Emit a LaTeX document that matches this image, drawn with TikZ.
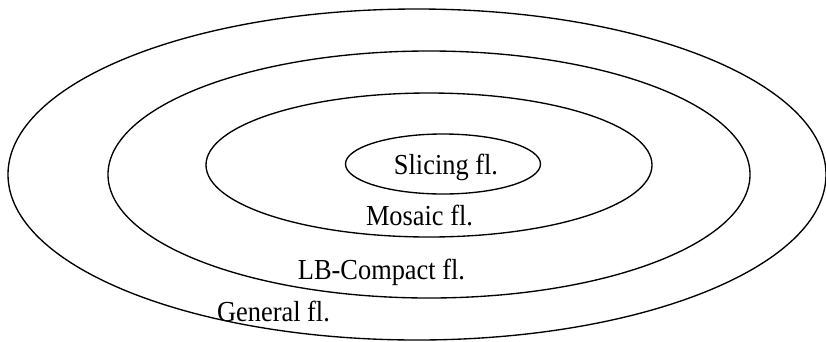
\documentclass[tikz,border=0pt]{standalone}
\usepackage{fontspec}
\setmainfont{Liberation Serif}[FakeStretch=0.91]
\usetikzlibrary{shapes.geometric}

\begin{document}
\begin{tikzpicture}[
    x=1bp,y=-1bp,
    ring/.style={draw,ellipse,line width=1.35bp,inner sep=0pt},
    classlabel/.style={anchor=base,inner sep=0pt,font=\fontsize{29bp}{34bp}\selectfont}
  ]
    \useasboundingbox (0,0) rectangle (826,341);
    \node[ring,minimum width=818bp,minimum height=331bp] (general) at (417,174.5) {};
    \node[ring,minimum width=642bp,minimum height=247bp] (lbcompact) at (429,174.5) {};
    \node[ring,minimum width=446bp,minimum height=144bp] (mosaic) at (429,165) {};
    \node[ring,minimum width=195bp,minimum height=60bp] (slicing) at (443,164) {};
    \node[classlabel] (lslicing) at (446,174.5) {Slicing fl.};
    \node[classlabel] (lmosaic) at (419.5,225) {Mosaic fl.};
    \node[classlabel] (llbcompact) at (381.5,279.5) {LB-Compact fl.};
    \node[classlabel] (lgeneral) at (273.5,321) {General fl.};
  \end{tikzpicture}
\end{document}
